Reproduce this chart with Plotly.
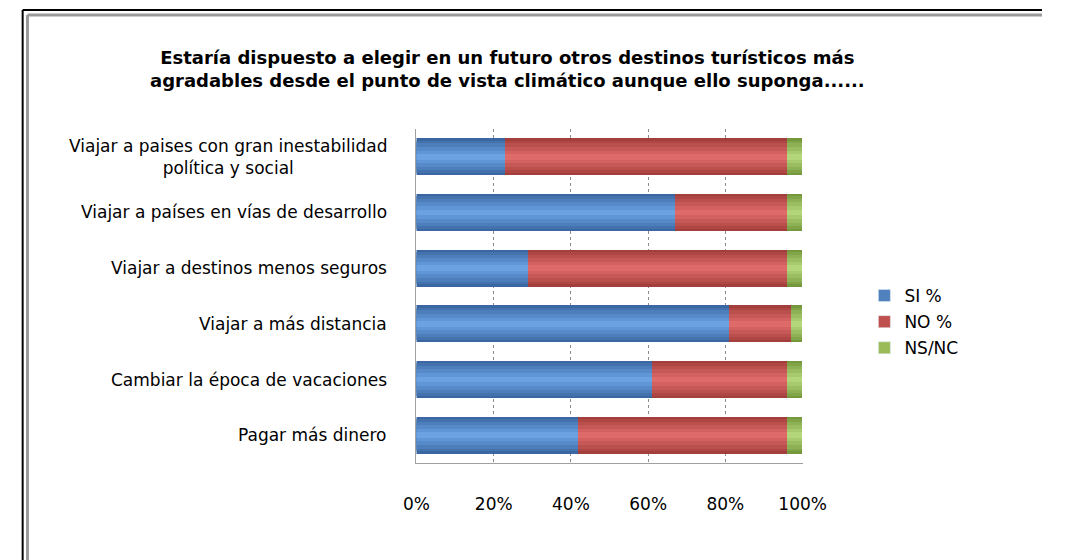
import numpy as np
import plotly.graph_objects as go

# Survey answers (percent), top row first
categorias = [
    "Viajar a paises con gran inestabilidad<br>política y social",
    "Viajar a países en vías de desarrollo",
    "Viajar a destinos menos seguros",
    "Viajar a más distancia",
    "Cambiar la época de vacaciones",
    "Pagar más dinero",
]
si = [23, 67, 29, 81, 61, 42]
no = [73, 29, 67, 16, 35, 54]
nsnc = [4, 4, 4, 3, 4, 4]

series = ["SI %", "NO %", "NS/NC"]
legend_colors = ["#4F81BD", "#C0504D", "#9BBB59"]
# (edge, highlight) shades used to fake the cylinder look
shades = [
    ("#3A66A2", "#6AA2E2"),
    ("#A23E3B", "#DE6A69"),
    ("#76983C", "#B4D67A"),
]

FONT = "DejaVu Sans, Verdana, sans-serif"
W, H = 1066, 560


def mix(c1, c2, t):
    a = [int(c1[i:i + 2], 16) for i in (1, 3, 5)]
    b = [int(c2[i:i + 2], 16) for i in (1, 3, 5)]
    return "#" + "".join(f"{round(x + (y - x) * t):02x}" for x, y in zip(a, b))


fig = go.Figure()

values = [np.array(si, float), np.array(no, float), np.array(nsnc, float)]
bases = [np.zeros(len(si)), values[0], values[0] + values[1]]
widths = [0.66, 0.58, 0.48, 0.36, 0.22, 0.1]

for vals, base, (edge, hi) in zip(values, bases, shades):
    for k, w in enumerate(widths):
        fig.add_trace(go.Bar(
            y=categorias, x=vals, base=base, orientation="h",
            width=w, marker=dict(color=mix(edge, hi, k / (len(widths) - 1)),
                                 line=dict(width=0)),
            showlegend=False, hoverinfo="skip",
        ))

# legend-only entries with the flat Office colours
for name, col in zip(series, legend_colors):
    fig.add_trace(go.Bar(y=[None], x=[None], orientation="h", name=name,
                         legendgroup=name, marker=dict(color=col)))

# category labels as annotations so the two-line label is centred
annotations = [
    dict(text=c, x=390 / W, xref="paper", xanchor="right", y=c, yref="y",
         yanchor="middle", showarrow=False, align="center",
         font=dict(family=FONT, size=17, color="black"))
    for c in categorias
]
annotations.append(dict(
    text="Estaría dispuesto a elegir en un futuro otros destinos turísticos más<br>"
         "agradables desde el punto de vista climático aunque ello suponga......",
    x=512 / W, xref="paper", xanchor="center",
    y=1 - 69 / H, yref="paper", yanchor="middle",
    showarrow=False, align="center",
    font=dict(family=FONT, size=18, color="black", weight="bold"),
))

# window frame (double line, top and left only)
shapes = []
for off, col, wd in ((10, "#000000", 2), (15, "#9A9A9A", 3)):
    shapes.append(dict(type="line", xref="paper", yref="paper",
                       x0=off / W, x1=1, y0=1 - off / H, y1=1 - off / H,
                       line=dict(color=col, width=wd)))
    shapes.append(dict(type="line", xref="paper", yref="paper",
                       x0=off / W, x1=off / W, y0=0, y1=1 - off / H,
                       line=dict(color=col, width=wd)))

fig.update_layout(
    width=W, height=H,
    barmode="overlay",
    bargap=0,
    paper_bgcolor="white", plot_bgcolor="white",
    margin=dict(l=0, r=0, t=0, b=0),
    font=dict(family=FONT, size=17, color="black"),
    annotations=annotations,
    shapes=shapes,
    legend=dict(x=882 / W, y=1 - 278 / H, xanchor="left", yanchor="top",
                font=dict(family=FONT, size=17), tracegroupgap=1,
                traceorder="grouped", itemwidth=30,
                bgcolor="rgba(0,0,0,0)"),
    xaxis=dict(
        domain=[418 / W, 818 / W], range=[0, 100],
        tickvals=[0, 20, 40, 60, 80, 100],
        ticktext=["0%", "20%", "40%", "60%", "80%", "100%"],
        showgrid=True, gridcolor="#8C8C8C", griddash="dot", gridwidth=1,
        showline=True, linecolor="#A0A0A0", linewidth=1,
        ticklabelstandoff=26, zeroline=False, fixedrange=True,
    ),
    yaxis=dict(
        domain=[1 - 463 / H, 1 - 129 / H],
        categoryorder="array", categoryarray=categorias,
        autorange="reversed", showticklabels=False,
        showline=True, linecolor="#A0A0A0", linewidth=1,
        showgrid=False, fixedrange=True,
    ),
)

fig.write_html(
    "out.html",
    config={"displayModeBar": False},
    post_script="var s=document.documentElement.style;"
                "s.margin='0';s.padding='0';s.overflow='hidden';"
                "s.width='1066px';s.height='560px';"
                "var b=document.body.style;"
                "b.margin='0';b.padding='0';b.overflow='hidden';"
                "b.width='1066px';b.height='560px';",
)
